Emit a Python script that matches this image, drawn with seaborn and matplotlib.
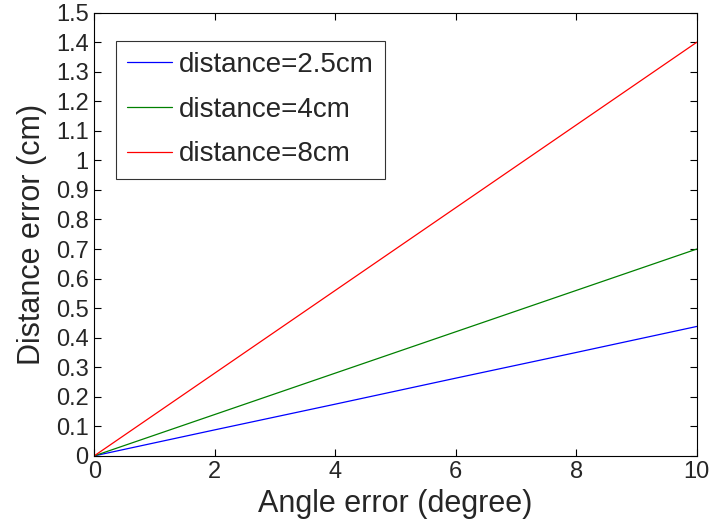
import matplotlib
matplotlib.use('Agg')
import matplotlib.pyplot as plt
import seaborn as sns
import pandas as pd

# values
angle = [0, 2, 4, 6, 8, 10]
err_25 = [0, 0.088, 0.175, 0.263, 0.350, 0.438]
err_4 = [0, 0.140, 0.280, 0.420, 0.560, 0.700]
err_8 = [0, 0.280, 0.560, 0.840, 1.120, 1.400]
labels = ['distance=2.5cm', 'distance=4cm', 'distance=8cm']
colors = ['#0000ff', '#008000', '#ff0000']

rows = []
for lab, ys in zip(labels, [err_25, err_4, err_8]):
    for a, e in zip(angle, ys):
        rows.append({'angle': a, 'err': e, 'series': lab})
df = pd.DataFrame(rows)

sns.set_style('white')
plt.rcParams['font.family'] = ['Liberation Sans', 'DejaVu Sans']

fig = plt.figure(figsize=(7.14, 5.27), dpi=100)
ax = fig.add_axes([0.132, 0.135, 0.844, 0.841])
sns.lineplot(data=df, x='angle', y='err', hue='series', palette=colors,
             hue_order=labels, linewidth=0.9, ax=ax)

ax.set_xlim(0, 10)
ax.set_ylim(0, 1.5)
ax.set_xticks(range(0, 11, 2))
ax.set_yticks([i / 10 for i in range(16)])
ax.set_yticklabels(['0' if i == 0 else ('1' if i == 10 else f'{i/10:g}') for i in range(16)])
ax.tick_params(direction='in', length=5, width=0.8, labelsize=17, top=True, right=True,
               bottom=True, left=True, color='black', pad=4)
for s in ax.spines.values():
    s.set_color('black')
    s.set_linewidth(0.8)
ax.set_xlabel('Angle error (degree)', fontsize=22, labelpad=4)
ax.set_ylabel('Distance error (cm)', fontsize=22, labelpad=6)

leg = ax.legend(loc='upper left', bbox_to_anchor=(0.0365, 0.937), fontsize=20,
                frameon=True, fancybox=False, edgecolor='black', borderpad=0.4,
                borderaxespad=0, handlelength=1.6, handletextpad=0.25,
                labelspacing=0.68)
leg.get_frame().set_linewidth(0.8)

fig.savefig('out.png', dpi=100)
